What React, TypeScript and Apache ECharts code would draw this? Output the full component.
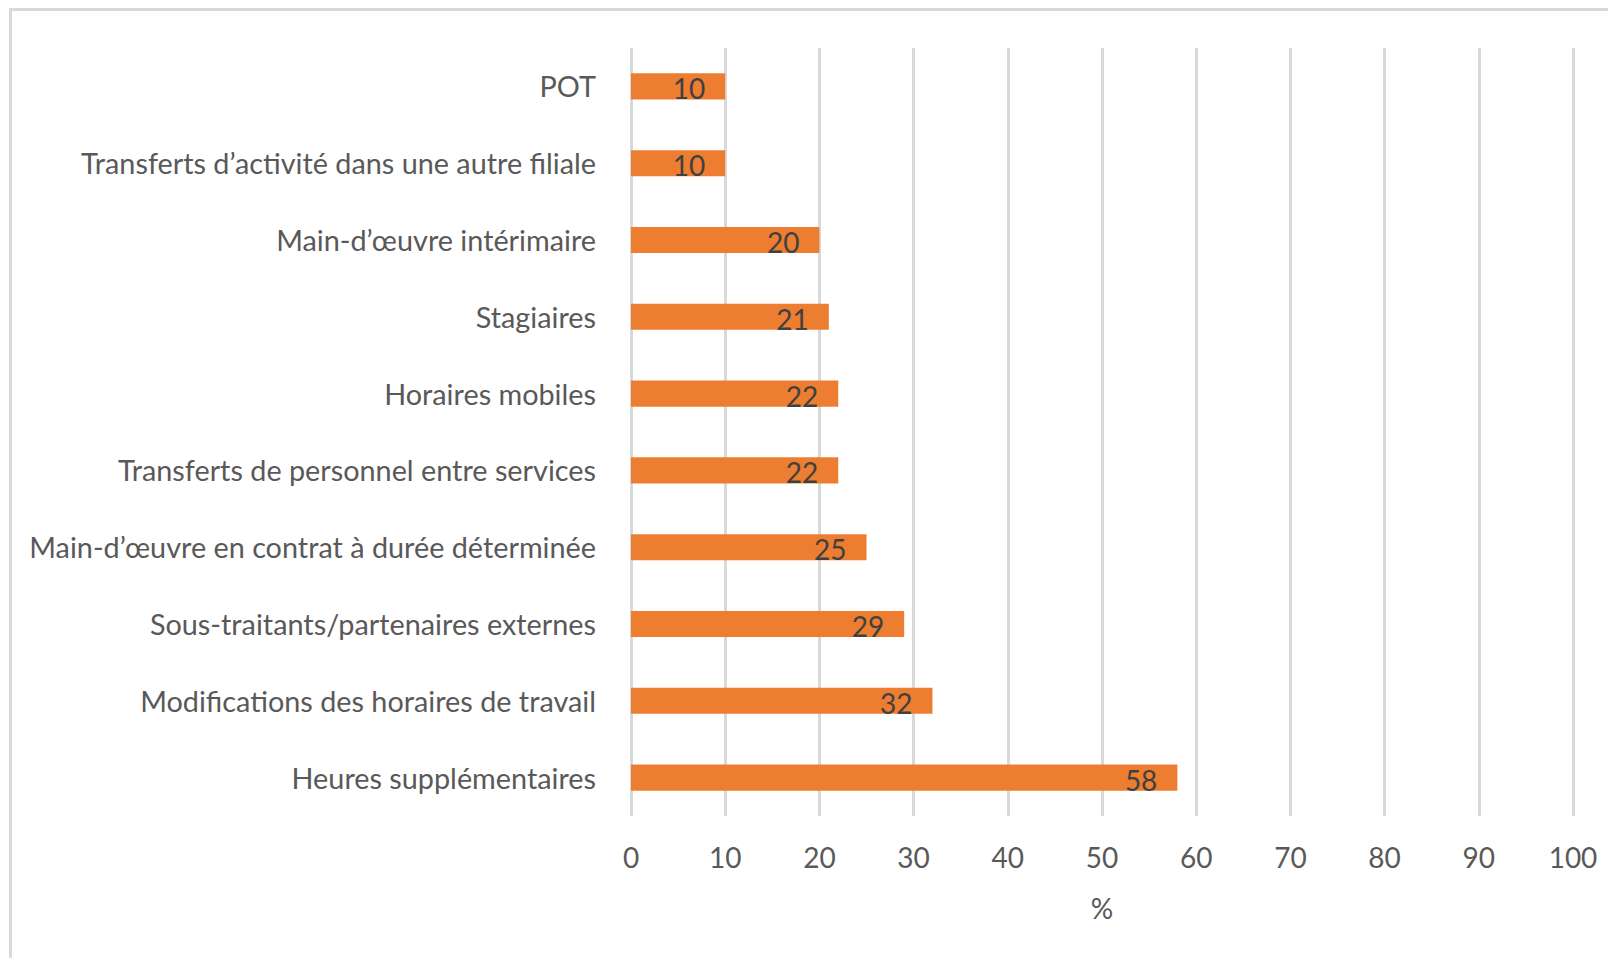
import React, { useEffect, useRef } from "react";
import * as echarts from "echarts";

const categories = [
  "Heures supplémentaires",
  "Modifications des horaires de travail",
  "Sous-traitants/partenaires externes",
  "Main-d\u2019œuvre en contrat à durée déterminée",
  "Transferts de personnel entre services",
  "Horaires mobiles",
  "Stagiaires",
  "Main-d\u2019œuvre intérimaire",
  "Transferts d\u2019activité dans une autre filiale",
  "POT",
];
const values = [58, 32, 29, 25, 22, 22, 21, 20, 10, 10];
const axisMin = 0;
const axisMax = 100;
const axisInterval = 10;
const axisName = "%";

const FONT = "Lato, 'Open Sans', sans-serif";

export default function App() {
  const ref = useRef<HTMLDivElement>(null);
  useEffect(() => {
    if (!ref.current) return;
    const chart = echarts.init(ref.current, undefined, { renderer: "svg" });
    chart.setOption({
      animation: false,
      backgroundColor: "#ffffff",
      textStyle: { fontFamily: FONT },
      graphic: [
        {
          type: "line",
          shape: { x1: 2.5, y1: 0, x2: 2.5, y2: 950 },
          style: { stroke: "#d9d9d9", lineWidth: 3 },
        },
        {
          type: "line",
          shape: { x1: 1, y1: 1.5, x2: 1600, y2: 1.5 },
          style: { stroke: "#d9d9d9", lineWidth: 3 },
        },
      ],
      grid: { left: 623, top: 40, right: 35, bottom: 142, containLabel: false },
      xAxis: {
        type: "value",
        min: axisMin,
        max: axisMax,
        interval: axisInterval,
        name: axisName,
        nameLocation: "middle",
        nameGap: 78,
        nameTextStyle: { color: "#595959", fontSize: 28, fontFamily: FONT },
        axisLine: { show: false },
        axisTick: { show: false },
        axisLabel: { color: "#595959", fontSize: 28, margin: 27, fontFamily: FONT },
        splitLine: { show: true, lineStyle: { color: "#d9d9d9", width: 3 } },
      },
      yAxis: {
        type: "category",
        data: categories,
        axisLine: { show: false },
        axisTick: { show: false },
        axisLabel: { color: "#595959", fontSize: 28.8, margin: 35, fontFamily: FONT },
      },
      series: [
        {
          type: "bar",
          data: values,
          barCategoryGap: "66%",
          itemStyle: { color: "#ED7D31" },
          label: {
            show: true,
            position: "insideRight",
            distance: 20,
            offset: [0, 2],
            color: "#404040",
            fontSize: 28,
            fontFamily: FONT,
          },
        },
      ],
    });
    return () => chart.dispose();
  }, []);
  return <div ref={ref} style={{ width: 1600, height: 950 }} />;
}
